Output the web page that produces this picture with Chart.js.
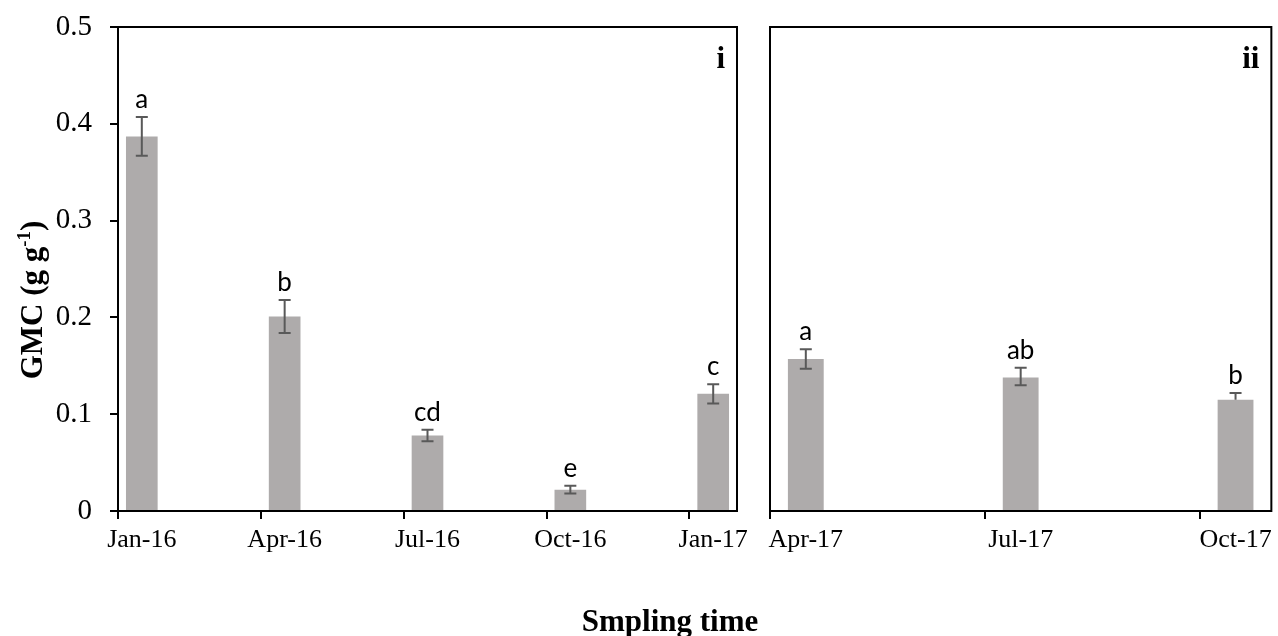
<!DOCTYPE html>
<html>
<head>
<meta charset="utf-8">
<script src="https://cdn.jsdelivr.net/npm/chart.js@4.4.1/dist/chart.umd.min.js"></script>
<style>
  html, body { margin: 0; padding: 0; background: #fff; }
  #wrap { position: relative; width: 1278px; height: 636px; }
  #wrap canvas { position: absolute; left: 0; top: 0; }
</style>
</head>
<body>
<div id="wrap">
  <canvas id="panel1" width="1278" height="636"></canvas>
  <canvas id="panel2" width="1278" height="636"></canvas>
</div>
<script>
// Panel i: Jan-16 to Jan-17
const samplingTimes1 = ['Jan-16', 'Apr-16', 'Jul-16', 'Oct-16', 'Jan-17'];
const gmc1 = [0.387, 0.201, 0.078, 0.022, 0.121];
const errPlus1 = [0.020, 0.017, 0.006, 0.004, 0.010];
const errMinus1 = [0.020, 0.017, 0.006, 0.004, 0.010];
const letters1 = ['a', 'b', 'cd', 'e', 'c'];

// Panel ii: Apr-17 to Oct-17
const samplingTimes2 = ['Apr-17', 'Jul-17', 'Oct-17'];
const gmc2 = [0.157, 0.138, 0.115];
const errPlus2 = [0.010, 0.010, 0.007];
const errMinus2 = [0.010, 0.008, 0];
const letters2 = ['a', 'ab', 'b'];

const yTicks = [0, 0.1, 0.2, 0.3, 0.4, 0.5];

const MONTHS = ['Jan','Feb','Mar','Apr','May','Jun','Jul','Aug','Sep','Oct','Nov','Dec'];
const SERIF = '"Liberation Serif", "Times New Roman", serif';
const BAR_COLOR = '#AEABAB';

function monthIndex(label) {
  const [m, y] = label.split('-');
  return (2000 + Number(y)) * 12 + MONTHS.indexOf(m);
}

// Expand the sampling dates into one slot per calendar month (date axis),
// leaving months without a sample empty.
function monthSlots(times, values, plus, minus, letters) {
  const start = monthIndex(times[0]);
  const end = monthIndex(times[times.length - 1]);
  const n = end - start + 1;
  const labels = [];
  for (let k = start; k <= end; k++) {
    labels.push(MONTHS[k % 12] + '-' + String(Math.floor(k / 12) % 100).padStart(2, '0'));
  }
  const data = new Array(n).fill(null);
  const ep = new Array(n).fill(null);
  const em = new Array(n).fill(null);
  const lt = new Array(n).fill('');
  times.forEach((t, i) => {
    const s = monthIndex(t) - start;
    data[s] = values[i]; ep[s] = plus[i]; em[s] = minus[i]; lt[s] = letters[i];
  });
  return { labels, data, ep, em, lt };
}

const errorBars = {
  id: 'errorBars',
  afterDatasetsDraw(chart) {
    const { ctx } = chart;
    const ds = chart.data.datasets[0];
    const meta = chart.getDatasetMeta(0);
    const y = chart.scales.y;
    ctx.save();
    meta.data.forEach((bar, i) => {
      const v = ds.data[i];
      if (v === null || v === undefined) return;
      const up = ds.errPlus[i], dn = ds.errMinus[i];
      const yTop = y.getPixelForValue(v + up);
      const yBot = y.getPixelForValue(v - dn);
      ctx.strokeStyle = '#595959';
      ctx.lineWidth = 2;
      ctx.beginPath();
      ctx.moveTo(bar.x, yTop); ctx.lineTo(bar.x, yBot);
      ctx.moveTo(bar.x - 6, yTop); ctx.lineTo(bar.x + 6, yTop);
      if (dn > 0) { ctx.moveTo(bar.x - 6, yBot); ctx.lineTo(bar.x + 6, yBot); }
      ctx.stroke();
      ctx.fillStyle = '#000';
      ctx.font = '26px Lato';
      ctx.textAlign = 'center';
      ctx.textBaseline = 'alphabetic';
      ctx.fillText(ds.letters[i], bar.x, yTop - 9);
    });
    ctx.restore();
  }
};

const frame = {
  id: 'frame',
  afterDraw(chart, args, opts) {
    const { ctx, chartArea: a } = chart;
    ctx.save();
    ctx.strokeStyle = '#000';
    ctx.lineWidth = 2;
    ctx.strokeRect(a.left, a.top, a.right - a.left, a.bottom - a.top);
    ctx.fillStyle = '#000';
    ctx.font = 'bold 31px ' + SERIF;
    ctx.textAlign = 'right';
    ctx.textBaseline = 'alphabetic';
    ctx.fillText(opts.tag, a.right - 12, a.top + 41);
    ctx.restore();
  }
};

const axisTitles = {
  id: 'axisTitles',
  afterDraw(chart) {
    const { ctx } = chart;
    ctx.save();
    ctx.fillStyle = '#000';
    ctx.textBaseline = 'alphabetic';
    // x title
    ctx.font = 'bold 31px ' + SERIF;
    ctx.textAlign = 'center';
    ctx.fillText('Smpling time', 670, 631);
    // y title with superscript
    const main = 'GMC (g g';
    const sup = '-1';
    const tail = ')';
    const fMain = 'bold 31px ' + SERIF;
    const fSup = 'bold 19px ' + SERIF;
    ctx.font = fMain;
    const w1 = ctx.measureText(main).width;
    const w3 = ctx.measureText(tail).width;
    ctx.font = fSup;
    const w2 = ctx.measureText(sup).width;
    const total = w1 + w2 + w3;
    ctx.translate(42, 300);
    ctx.rotate(-Math.PI / 2);
    ctx.textAlign = 'left';
    let x = -total / 2;
    ctx.font = fMain; ctx.fillText(main, x, 0); x += w1;
    ctx.font = fSup; ctx.fillText(sup, x, -12); x += w2;
    ctx.font = fMain; ctx.fillText(tail, x, 0);
    ctx.restore();
  }
};

function xScale(slots, times) {
  const shown = i => times.includes(slots.labels[i]);
  return {
    type: 'category',
    offset: true,
    afterFit: s => { s.height = 125; },
    border: { display: true, color: '#000', width: 2 },
    grid: {
      offset: true,
      drawOnChartArea: false,
      drawTicks: true,
      tickLength: 8,
      lineWidth: 2,
      color: ctx => (ctx.type === 'tick' && shown(ctx.index)) ? '#000' : 'rgba(0,0,0,0)'
    },
    ticks: {
      autoSkip: false,
      maxRotation: 0,
      minRotation: 0,
      padding: 6,
      color: '#000',
      font: { family: SERIF, size: 26 },
      callback: (v, i) => shown(i) ? slots.labels[i] : ''
    }
  };
}

function makeChart(id, slots, times, opts) {
  return new Chart(document.getElementById(id), {
    type: 'bar',
    data: {
      labels: slots.labels,
      datasets: [{
        data: slots.data,
        errPlus: slots.ep,
        errMinus: slots.em,
        letters: slots.lt,
        backgroundColor: BAR_COLOR,
        borderWidth: 0,
        categoryPercentage: 1,
        barPercentage: opts.barPct
      }]
    },
    options: {
      responsive: false,
      animation: false,
      events: [],
      layout: { padding: opts.padding },
      plugins: {
        legend: { display: false },
        tooltip: { enabled: false },
        frame: { tag: opts.tag }
      },
      scales: {
        x: xScale(slots, times),
        y: opts.yScale
      }
    },
    plugins: opts.plugins
  });
}

function draw() {
  const s1 = monthSlots(samplingTimes1, gmc1, errPlus1, errMinus1, letters1);
  const s2 = monthSlots(samplingTimes2, gmc2, errPlus2, errMinus2, letters2);

  makeChart('panel1', s1, samplingTimes1, {
    barPct: 0.665,
    tag: 'i',
    padding: { left: 0, top: 27, right: 541, bottom: 0 },
    plugins: [errorBars, frame, axisTitles],
    yScale: {
      min: 0, max: 0.5,
      afterFit: s => { s.width = 118; s.paddingTop = 0; s.paddingBottom = 0; },
      afterBuildTicks: s => { s.ticks = yTicks.map(v => ({ value: v })); },
      border: { display: true, color: '#000', width: 2 },
      grid: { drawOnChartArea: false, drawTicks: true, tickLength: 8, lineWidth: 2, color: '#000' },
      ticks: {
        padding: 18,
        color: '#000',
        font: { family: SERIF, size: 29 },
        callback: v => v === 0 ? '0' : v.toFixed(1)
      }
    }
  });

  makeChart('panel2', s2, samplingTimes2, {
    barPct: 0.5,
    tag: 'ii',
    padding: { left: 770, top: 27, right: 5, bottom: 0 },
    plugins: [errorBars, frame],
    yScale: {
      display: false,
      min: 0, max: 0.5,
      afterBuildTicks: s => { s.ticks = yTicks.map(v => ({ value: v })); }
    }
  });
}

const fontLoads = [
  '26px Lato',
  '26px "Liberation Serif"',
  'bold 31px "Liberation Serif"'
].map(f => document.fonts.load(f));
Promise.all(fontLoads).then(draw, draw);
</script>
</body>
</html>
